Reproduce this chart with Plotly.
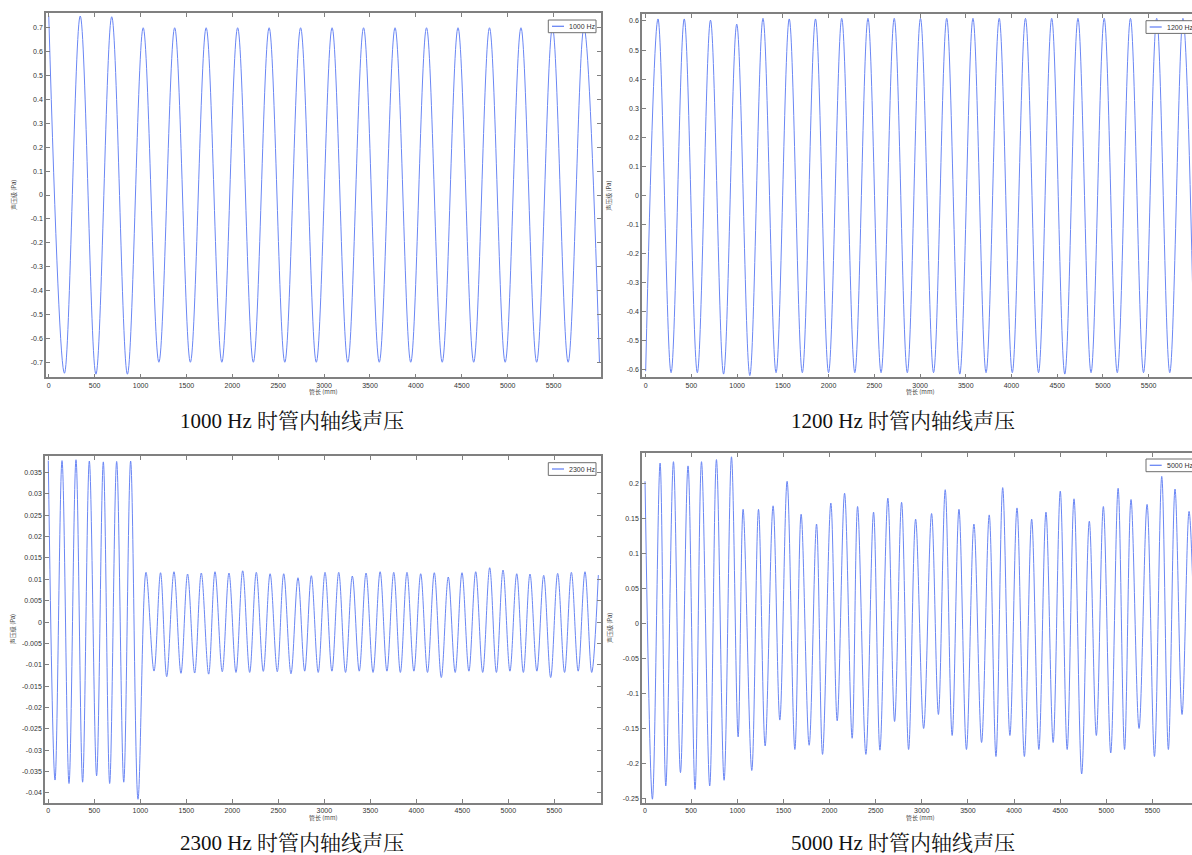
import plotly.graph_objects as go

# ---------------- data (extrema) ----------------
# 1000 Hz
x_1000 = [0, 171, 343, 514, 686, 857, 1029, 1200, 1372, 1543, 1715, 1886, 2058, 2229,
          2401, 2572, 2744, 2915, 3087, 3258, 3430, 3601, 3773, 3944, 4116, 4287, 4459,
          4630, 4802, 4973, 5145, 5316, 5488, 5659, 5831, 6000]
y_1000 = [0.75, -0.746, 0.749, -0.75, 0.746, -0.75, 0.70, -0.70, 0.70, -0.70, 0.70, -0.70,
          0.70, -0.70, 0.70, -0.70, 0.70, -0.70, 0.70, -0.70, 0.70, -0.70, 0.70, -0.70,
          0.70, -0.70, 0.70, -0.70, 0.70, -0.70, 0.70, -0.70, 0.70, -0.70, 0.70, -0.70]

# 1200 Hz
x_1200 = [0, 135, 278, 422, 565, 709, 852, 996, 1139, 1283, 1426, 1570, 1713, 1857, 2000,
          2144, 2287, 2431, 2574, 2718, 2861, 3005, 3148, 3292, 3435, 3579, 3722, 3866,
          4009, 4153, 4296, 4440, 4583, 4727, 4870, 5014, 5157, 5301, 5444, 5588, 5731,
          5875, 6000]
y_1200 = [-0.605, 0.607, -0.61, 0.607, -0.61, 0.603, -0.615, 0.589, -0.62, 0.609, -0.61,
          0.607, -0.61, 0.607, -0.61, 0.609, -0.61, 0.609, -0.61, 0.609, -0.61, 0.609,
          -0.61, 0.609, -0.615, 0.609, -0.61, 0.609, -0.61, 0.609, -0.61, 0.609, -0.615,
          0.609, -0.61, 0.609, -0.61, 0.609, -0.61, 0.609, -0.61, 0.609, -0.60]

# 2300 Hz
x_2300 = [0, 73, 149, 225, 301, 373, 446, 525, 598, 667, 743, 820, 895, 975,
          1062, 1149, 1220, 1287, 1366, 1442, 1514, 1591, 1663, 1743, 1812, 1891,
          1964, 2040, 2113, 2189, 2261, 2337, 2411, 2489, 2559, 2638, 2714, 2787,
          2859, 2934, 3008, 3083, 3157, 3231, 3305, 3380, 3454, 3530, 3607, 3681,
          3755, 3827, 3899, 3974, 4048, 4122, 4196, 4272, 4348, 4423, 4497, 4572,
          4646, 4722, 4798, 4871, 4943, 5018, 5092, 5164, 5236, 5311, 5385, 5461,
          5537, 5612, 5686, 5760, 5834, 5907, 5979]
y_2300 = [0.0378, -0.037, 0.0378, -0.0378, 0.038, -0.0375, 0.0377, -0.036, 0.0375, -0.0378,
          0.0376, -0.0375, 0.0377, -0.0415,
          0.01164, -0.01148, 0.01155, -0.0128, 0.01178, -0.012, 0.01124, -0.01194,
          0.01148, -0.0122, 0.01178, -0.01163, 0.01148, -0.0118, 0.012, -0.0118,
          0.01164, -0.01155, 0.01131, -0.01163, 0.01131, -0.0121, 0.01037, -0.0115,
          0.01085, -0.0118, 0.01164, -0.0115, 0.01164, -0.0118, 0.01077, -0.0115,
          0.01148, -0.0118, 0.01178, -0.0115, 0.01164, -0.0118, 0.01164, -0.0115,
          0.01131, -0.0118, 0.01155, -0.013, 0.01054, -0.0118, 0.01155, -0.0115,
          0.01178, -0.0118, 0.01272, -0.0118, 0.01218, -0.0115, 0.01131, -0.0118,
          0.01124, -0.0115, 0.01093, -0.013, 0.0114, -0.0118, 0.01164, -0.0115,
          0.01178, -0.0118, 0.011]

# 5000 Hz
x_5000 = [0, 80, 163, 225, 308, 384, 466, 542, 612, 701, 774, 857, 937, 1009, 1063, 1157,
          1230, 1302, 1388, 1461, 1540, 1624, 1692, 1779, 1859, 1924, 2014, 2083, 2163,
          2245, 2304, 2394, 2477, 2546, 2632, 2705, 2781, 2857, 2933, 3020, 3106, 3180,
          3254, 3329, 3403, 3484, 3565, 3648, 3731, 3804, 3877, 3955, 4032, 4112, 4191,
          4269, 4346, 4424, 4501, 4576, 4650, 4733, 4816, 4892, 4968, 5048, 5128, 5198,
          5268, 5355, 5442, 5522, 5601, 5673, 5745, 5821, 5897, 5960]
y_5000 = [0.203, -0.251, 0.229, -0.232, 0.231, -0.213, 0.225, -0.237, 0.231, -0.232, 0.234,
          -0.224, 0.238, -0.162, 0.163, -0.21, 0.163, -0.175, 0.168, -0.138, 0.203, -0.18,
          0.156, -0.174, 0.142, -0.187, 0.172, -0.139, 0.186, -0.164, 0.167, -0.187, 0.159,
          -0.181, 0.179, -0.14, 0.173, -0.18, 0.149, -0.15, 0.157, -0.13, 0.191, -0.16,
          0.163, -0.18, 0.142, -0.17, 0.155, -0.19, 0.194, -0.16, 0.165, -0.19, 0.149,
          -0.18, 0.159, -0.17, 0.189, -0.18, 0.178, -0.215, 0.146, -0.16, 0.167, -0.185,
          0.193, -0.18, 0.177, -0.15, 0.17, -0.19, 0.21, -0.18, 0.192, -0.13, 0.16, -0.05]

x_ticks = [0, 500, 1000, 1500, 2000, 2500, 3000, 3500, 4000, 4500, 5000, 5500]
x_labels = ["0", "500", "1000", "1500", "2000", "2500", "3000", "3500", "4000", "4500", "5000", "5500"]

y1_ticks = [-0.7, -0.6, -0.5, -0.4, -0.3, -0.2, -0.1, 0, 0.1, 0.2, 0.3, 0.4, 0.5, 0.6, 0.7]
y1_labels = ["-0.7", "-0.6", "-0.5", "-0.4", "-0.3", "-0.2", "-0.1", "0", "0.1", "0.2", "0.3", "0.4", "0.5", "0.6", "0.7"]
y2_ticks = [-0.6, -0.5, -0.4, -0.3, -0.2, -0.1, 0, 0.1, 0.2, 0.3, 0.4, 0.5, 0.6]
y2_labels = ["-0.6", "-0.5", "-0.4", "-0.3", "-0.2", "-0.1", "0", "0.1", "0.2", "0.3", "0.4", "0.5", "0.6"]
y3_ticks = [-0.04, -0.035, -0.03, -0.025, -0.02, -0.015, -0.01, -0.005, 0, 0.005, 0.01, 0.015, 0.02, 0.025, 0.03, 0.035]
y3_labels = ["-0.04", "-0.035", "-0.03", "-0.025", "-0.02", "-0.015", "-0.01", "-0.005", "0", "0.005", "0.01", "0.015", "0.02", "0.025", "0.03", "0.035"]
y4_ticks = [-0.25, -0.2, -0.15, -0.1, -0.05, 0, 0.05, 0.1, 0.15, 0.2]
y4_labels = ["-0.25", "-0.2", "-0.15", "-0.1", "-0.05", "0", "0.05", "0.1", "0.15", "0.2"]

series_names = ["1000 Hz", "1200 Hz", "2300 Hz", "5000 Hz"]
captions = ["1000 Hz 时管内轴线声压", "1200 Hz 时管内轴线声压", "2300 Hz 时管内轴线声压", "5000 Hz 时管内轴线声压"]
y_title = "声压级 (Pa)"
x_title = "管长 (mm)"

# ---------------- figure ----------------
W, H = 1192, 855
LINE = "#6a86f4"
AX = "#808080"
TXT = "#333333"


def px(v):
    return v / W


def py(v):
    return 1 - v / H


panels = [
    dict(x=x_1000, y=y_1000, xd=[px(46), px(601)], yd=[py(377.3), py(12.7)],
         xr=[-30, 6017], yr=[-0.763, 0.763], yt=y1_ticks, yl=y1_labels,
         leg=(548.3, 20.0), mirror_y="ticks", xt=323.5),
    dict(x=x_1200, y=y_1200, xd=[px(642), 1.0], yd=[py(377.3), py(14.3)],
         xr=[-40, 5974], yr=[-0.626, 0.623], yt=y2_ticks, yl=y2_labels,
         leg=(1146.0, 20.7), mirror_y=False, xt=920.0),
    dict(x=x_2300, y=y_2300, xd=[px(45), px(601)], yd=[py(802.7), py(455.7)],
         xr=[-36, 6008], yr=[-0.0423, 0.03895], yt=y3_ticks, yl=y3_labels,
         leg=(548.3, 462.7), mirror_y="ticks", xt=323.5),
    dict(x=x_5000, y=y_5000, xd=[px(642), 1.0], yd=[py(802.7), py(453.3)],
         xr=[-33, 5929], yr=[-0.256, 0.243], yt=y4_ticks, yl=y4_labels,
         leg=(1146.0, 459.0), mirror_y=False, xt=920.0),
]

fig = go.Figure()
layout = dict(width=W, height=H, margin=dict(l=0, r=0, t=0, b=0, autoexpand=False),
              paper_bgcolor="white", plot_bgcolor="white", showlegend=False)
annotations = []
shapes = []

for i, p in enumerate(panels):
    n = "" if i == 0 else str(i + 1)
    fig.add_trace(go.Scatter(
        x=p["x"], y=p["y"], mode="lines", name=series_names[i],
        line=dict(color=LINE, width=1, shape="spline", smoothing=1.0),
        xaxis="x" + n, yaxis="y" + n,
    ))
    common = dict(showline=True, linecolor=AX, linewidth=1.6,
                  ticks="inside", ticklen=4, tickcolor=AX, tickwidth=1,
                  showgrid=False, zeroline=False,
                  tickfont=dict(family="Liberation Sans, Arial", size=7, color=TXT))
    layout["xaxis" + n] = dict(common, mirror="ticks", domain=p["xd"], range=p["xr"], anchor="y" + n,
                               tickmode="array", tickvals=x_ticks, ticktext=x_labels)
    layout["yaxis" + n] = dict(common, mirror=p["mirror_y"], domain=p["yd"], range=p["yr"], anchor="x" + n,
                               tickmode="array", tickvals=p["yt"], ticktext=p["yl"])
    # axis titles
    annotations.append(dict(text=x_title, x=px(p["xt"]), y=p["yd"][0] - 14.5 / H, xref="paper", yref="paper",
                            showarrow=False, xanchor="center", yanchor="middle",
                            font=dict(family="Noto Sans CJK SC", size=6, color="#444444")))
    annotations.append(dict(text=y_title, x=p["xd"][0] - 33 / W, y=(p["yd"][0] + p["yd"][1]) / 2,
                            xref="paper", yref="paper", showarrow=False, textangle=-90,
                            xanchor="center", yanchor="middle",
                            font=dict(family="Noto Sans CJK SC", size=6, color="#444444")))
    # legend box (drawn small, as in the original)
    lx, ly = p["leg"]
    shapes.append(dict(type="rect", xref="paper", yref="paper",
                       x0=px(lx), x1=px(lx + 47.7), y0=py(ly), y1=py(ly + 12.7),
                       line=dict(color="#6e6e6e", width=1), fillcolor="white", layer="above"))
    shapes.append(dict(type="line", xref="paper", yref="paper",
                       x0=px(lx + 3.7), x1=px(lx + 15.7), y0=py(ly + 6.3), y1=py(ly + 6.3),
                       line=dict(color=LINE, width=1.3), layer="above"))
    annotations.append(dict(text=series_names[i], x=px(lx + 18.5), y=py(ly + 6.5), xref="paper", yref="paper",
                            showarrow=False, xanchor="left", yanchor="middle",
                            font=dict(family="Liberation Sans, Arial", size=7, color=TXT)))
    # captions
    cx = 292 if i % 2 == 0 else 903
    cy = 421 if i < 2 else 843
    annotations.append(dict(text=captions[i], x=px(cx), y=py(cy), xref="paper", yref="paper",
                            showarrow=False, xanchor="center", yanchor="middle",
                            font=dict(family="Liberation Serif, Noto Serif CJK SC, Noto Sans CJK SC",
                                      size=21, color="#111111")))

layout["annotations"] = annotations
layout["shapes"] = shapes
fig.update_layout(**layout)
fig.write_html("out.html")
